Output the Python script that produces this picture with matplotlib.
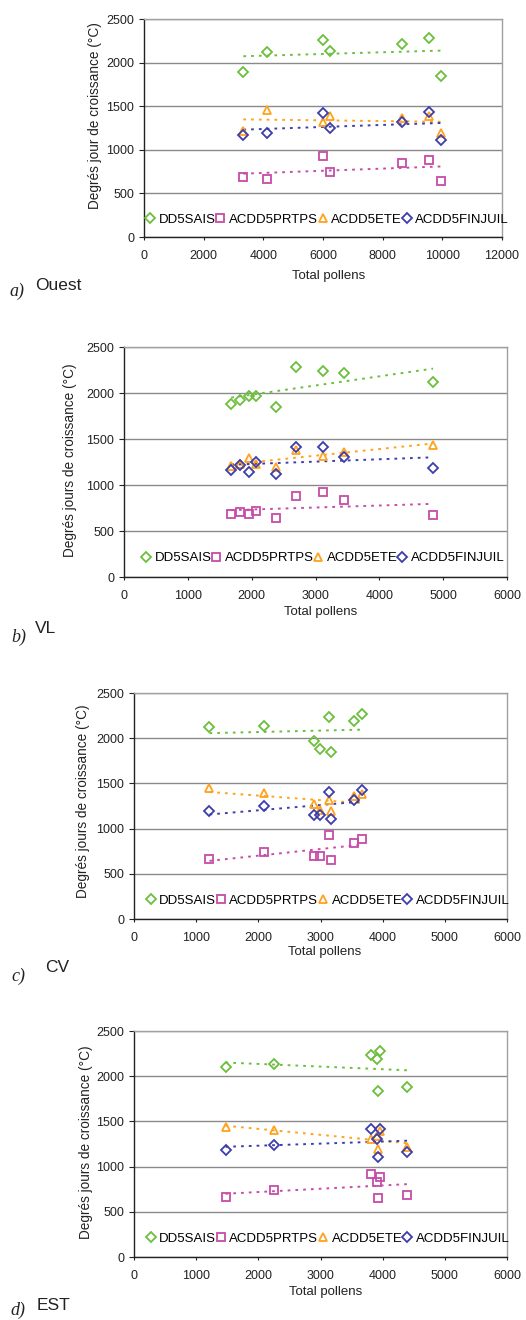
import numpy as np
import matplotlib
matplotlib.use("Agg")
import matplotlib.pyplot as plt
from matplotlib.lines import Line2D

plt.rcParams["font.family"] = ["Liberation Sans", "DejaVu Sans"]

series_names = ["DD5SAIS", "ACDD5PRTPS", "ACDD5ETE", "ACDD5FINJUIL"]

# --- a) Ouest
ouest_pollen = [3330, 4130, 6000, 6220, 8650, 9545, 9970]
ouest_dd5sais = [1895, 2124, 2255, 2137, 2210, 2282, 1847]
ouest_prtps = [685, 666, 928, 740, 844, 882, 645]
ouest_ete = [1215, 1458, 1324, 1391, 1370, 1385, 1198]
ouest_finjuil = [1171, 1198, 1418, 1248, 1317, 1435, 1115]

# --- b) VL
vl_pollen = [1680, 1815, 1955, 2070, 2380, 2690, 3110, 3440, 4841]
vl_dd5sais = [1881, 1920, 1964, 1966, 1848, 2285, 2236, 2214, 2120]
vl_prtps = [680, 705, 680, 717, 645, 882, 920, 832, 671]
vl_ete = [1206, 1225, 1293, 1232, 1200, 1383, 1312, 1362, 1439]
vl_finjuil = [1163, 1214, 1145, 1247, 1118, 1417, 1417, 1303, 1185]

# --- c) CV
cv_pollen = [1214, 2089, 2895, 2992, 3142, 3169, 3544, 3673]
cv_dd5sais = [2120, 2131, 1965, 1880, 2240, 1852, 2192, 2273]
cv_prtps = [664, 737, 693, 693, 926, 657, 841, 888]
cv_ete = [1445, 1390, 1277, 1210, 1318, 1198, 1360, 1386]
cv_finjuil = [1191, 1250, 1155, 1155, 1410, 1110, 1317, 1424]

# --- d) EST
est_pollen = [1472, 2251, 3805, 3915, 3961, 3925, 4397]
est_dd5sais = [2106, 2135, 2234, 2190, 2282, 1840, 1878]
est_prtps = [666, 736, 920, 835, 888, 652, 688]
est_ete = [1443, 1403, 1300, 1335, 1390, 1195, 1212]
est_finjuil = [1186, 1244, 1414, 1307, 1414, 1111, 1166]

y_ticks = [0, 500, 1000, 1500, 2000, 2500]
x_ticks_ouest = [0, 2000, 4000, 6000, 8000, 10000, 12000]
x_ticks_other = [0, 1000, 2000, 3000, 4000, 5000, 6000]

colors = ["#6cbf3c", "#c64ca8", "#ffa21c", "#3d3dab"]
markers = ["D", "s", "^", "D"]
msizes = [4.6, 5.6, 5.8, 4.6]

FIG_W, FIG_H = 526, 1320
fig = plt.figure(figsize=(FIG_W / 100, FIG_H / 100), dpi=100)


def px_axes(left, top, right, bottom):
    return fig.add_axes([left / FIG_W, 1 - bottom / FIG_H,
                         (right - left) / FIG_W, (bottom - top) / FIG_H])


panels = [
    dict(box=(144, 19, 502, 237), x=ouest_pollen,
         ys=[ouest_dd5sais, ouest_prtps, ouest_ete, ouest_finjuil],
         xticks=x_ticks_ouest, ylabel="Degrés jour de croissance (°C)",
         ylab=(-0.137, 0.556), xlab=(0.517, -0.177), leg=(0.513, 0.079),
         tag="a)", name="Ouest", tag_xy=(17, 291), name_xy=(35, 285)),
    dict(box=(124, 347, 507, 577), x=vl_pollen,
         ys=[vl_dd5sais, vl_prtps, vl_ete, vl_finjuil],
         xticks=x_ticks_other, ylabel="Degrés jours de croissance (°C)",
         ylab=(-0.141, 0.507), xlab=(0.514, -0.153), leg=(0.52, 0.081),
         tag="b)", name="VL", tag_xy=(19, 637), name_xy=(35, 628)),
    dict(box=(134, 693, 507, 919), x=cv_pollen,
         ys=[cv_dd5sais, cv_prtps, cv_ete, cv_finjuil],
         xticks=x_ticks_other, ylabel="Degrés jours de croissance (°C)",
         ylab=(-0.137, 0.52), xlab=(0.512, -0.147), leg=(0.52, 0.08),
         tag="c)", name="CV", tag_xy=(18, 976), name_xy=(45, 968)),
    dict(box=(134, 1031, 507, 1257), x=est_pollen,
         ys=[est_dd5sais, est_prtps, est_ete, est_finjuil],
         xticks=x_ticks_other, ylabel="Degrés jours de croissance (°C)",
         ylab=(-0.129, 0.51), xlab=(0.515, -0.153), leg=(0.52, 0.08),
         tag="d)", name="EST", tag_xy=(18, 1310), name_xy=(37, 1305)),
]

for p in panels:
    ax = px_axes(*p["box"])
    x = np.asarray(p["x"], dtype=float)
    for yv, c, m, ms in zip(p["ys"], colors, markers, msizes):
        yv = np.asarray(yv, dtype=float)
        ax.plot(x, yv, linestyle="none", marker=m, ms=ms, mfc="none",
                mec=c, mew=1.3, zorder=4)
        slope, icpt = np.polyfit(x, yv, 1)
        xx = np.array([x.min(), x.max()])
        ax.plot(xx, slope * xx + icpt, color=c, lw=1.4,
                linestyle=(0, (1.4, 2.6)), zorder=3)

    ax.set_xlim(p["xticks"][0], p["xticks"][-1])
    ax.set_ylim(0, 2500)
    ax.set_xticks(p["xticks"])
    ax.set_yticks(y_ticks)
    ax.yaxis.grid(True, color="#8a8a8a", lw=1.0)
    ax.set_axisbelow(True)
    for side in ("top", "right"):
        ax.spines[side].set_color("#a0a0a0")
        ax.spines[side].set_linewidth(1.0)
    for side in ("left", "bottom"):
        ax.spines[side].set_color("#222222")
        ax.spines[side].set_linewidth(1.0)
    ax.tick_params(axis="y", length=3.5, width=0.8, pad=3.5,
                   labelsize=9, colors="#222222")
    ax.tick_params(axis="x", length=2.5, width=0.8, pad=7,
                   labelsize=9, colors="#222222")

    ax.set_ylabel(p["ylabel"], fontsize=9.8, color="#222222")
    ax.yaxis.set_label_coords(*p["ylab"])
    ax.yaxis.label.set_verticalalignment("center")
    ax.set_xlabel("Total pollens", fontsize=9.5, color="#222222")
    ax.xaxis.set_label_coords(*p["xlab"])
    ax.xaxis.label.set_verticalalignment("center")

    handles = [Line2D([], [], linestyle="none", marker=m, ms=ms, mfc="none",
                      mec=c, mew=1.3)
               for c, m, ms in zip(colors, markers, msizes)]
    ax.legend(handles, series_names, ncol=4, frameon=False, loc="center",
              bbox_to_anchor=p["leg"], fontsize=9.5, handlelength=0.6,
              handletextpad=0.35, columnspacing=0.05, borderpad=0,
              borderaxespad=0)

    tx, ty = p["tag_xy"]
    fig.text(tx / FIG_W, 1 - ty / FIG_H, p["tag"], ha="center", va="center",
             fontsize=13, style="italic",
             family=["Liberation Serif", "DejaVu Serif"], color="#222222")
    nx, ny = p["name_xy"]
    fig.text(nx / FIG_W, 1 - ny / FIG_H, p["name"], ha="left", va="center",
             fontsize=12.5, color="#222222")

fig.savefig("out.png", dpi=100)
